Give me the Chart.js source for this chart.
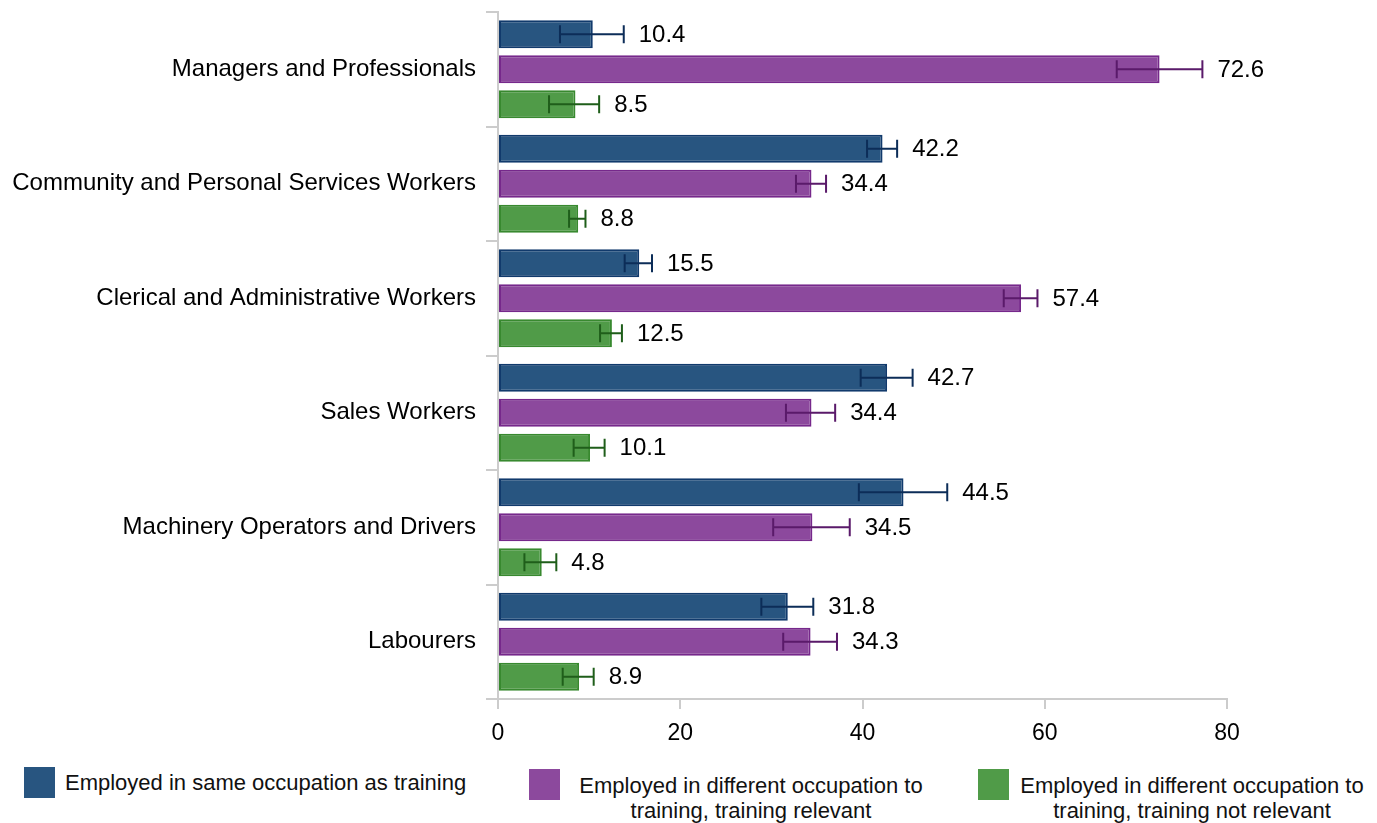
<!DOCTYPE html>
<html>
<head>
<meta charset="utf-8">
<script src="https://cdn.jsdelivr.net/npm/chart.js@4"></script>
<style>
  body { margin: 0; background: #fff; font-family: "Liberation Sans", Arial, sans-serif; }
  #wrap { position: absolute; left: 0; top: 0; width: 1377px; height: 760px; }
  .lg { position: absolute; font-size: 22px; line-height: 25px; color: #111; }
  .sw { position: absolute; width: 31px; height: 31px; }
</style>
</head>
<body>
<div id="wrap"><canvas id="chart"></canvas></div>

<div class="sw" style="left:24px; top:767px; background:#285580;"></div>
<div class="lg" style="left:65px; top:770px;">Employed in same occupation as training</div>
<div class="sw" style="left:529px; top:769px; background:#8c499d;"></div>
<div class="lg" style="left:551px; top:773px; width:400px; text-align:center;">Employed in different occupation to<br>training, training relevant</div>
<div class="sw" style="left:978px; top:769px; background:#509b48;"></div>
<div class="lg" style="left:992px; top:773px; width:400px; text-align:center;">Employed in different occupation to<br>training, training not relevant</div>

<script>
const categories = [
  'Managers and Professionals',
  'Community and Personal Services Workers',
  'Clerical and Administrative Workers',
  'Sales Workers',
  'Machinery Operators and Drivers',
  'Labourers'
];

// employed in same occupation as training
const sameOcc = [10.4, 42.2, 15.5, 42.7, 44.5, 31.8];
const sameLow = [6.8, 40.5, 13.9, 39.8, 39.6, 28.9];
const sameHigh = [13.8, 43.8, 16.9, 45.5, 49.3, 34.6];

// different occupation, training relevant
const diffRelevant = [72.6, 34.4, 57.4, 34.4, 34.5, 34.3];
const diffRelLow = [67.9, 32.7, 55.5, 31.6, 30.2, 31.3];
const diffRelHigh = [77.3, 36.0, 59.2, 37.0, 38.6, 37.2];

// different occupation, training not relevant
const diffNotRelevant = [8.5, 8.8, 12.5, 10.1, 4.8, 8.9];
const diffNotLow = [5.6, 7.8, 11.2, 8.3, 2.9, 7.1];
const diffNotHigh = [11.1, 9.6, 13.6, 11.7, 6.4, 10.5];

const xTicks = [0, 20, 40, 60, 80];

// draws the error bars and the value labels next to them
const errorBars = {
  id: 'errorBars',
  afterDatasetsDraw(chart) {
    const ctx = chart.ctx;
    const xs = chart.scales.x;
    chart.data.datasets.forEach((ds, i) => {
      const meta = chart.getDatasetMeta(i);
      meta.data.forEach((bar, j) => {
        const lo = xs.getPixelForValue(ds.lows[j]);
        const hi = xs.getPixelForValue(ds.highs[j]);
        const y = bar.y;
        const cap = 9;
        ctx.save();
        ctx.strokeStyle = ds.errColor;
        ctx.lineWidth = 2;
        ctx.beginPath();
        ctx.moveTo(lo, y); ctx.lineTo(hi, y);
        ctx.moveTo(lo, y - cap); ctx.lineTo(lo, y + cap);
        ctx.moveTo(hi, y - cap); ctx.lineTo(hi, y + cap);
        ctx.stroke();
        ctx.fillStyle = '#000';
        ctx.font = '24px "Liberation Sans", Arial, sans-serif';
        ctx.textAlign = 'left';
        ctx.textBaseline = 'middle';
        ctx.fillText(ds.data[j].toFixed(1), hi + 15, y + 1);
        ctx.restore();
      });
    });
  }
};

const ctx = document.getElementById('chart').getContext('2d');
new Chart(ctx, {
  type: 'bar',
  data: {
    labels: categories,
    datasets: [
      { label: 'Employed in same occupation as training', data: sameOcc, lows: sameLow, highs: sameHigh,
        backgroundColor: '#285580', borderColor: '#113a6c', errColor: '#0c2d58' },
      { label: 'Employed in different occupation to training, training relevant', data: diffRelevant, lows: diffRelLow, highs: diffRelHigh,
        backgroundColor: '#8c499d', borderColor: '#76288b', errColor: '#5a1a6a' },
      { label: 'Employed in different occupation to training, training not relevant', data: diffNotRelevant, lows: diffNotLow, highs: diffNotHigh,
        backgroundColor: '#509b48', borderColor: '#38892f', errColor: '#1f5e1a' }
    ].map(d => Object.assign(d, { borderWidth: 2, borderSkipped: false, categoryPercentage: 0.917, barPercentage: 0.8 }))
  },
  options: {
    indexAxis: 'y',
    responsive: true,
    maintainAspectRatio: false,
    animation: false,
    layout: { padding: { top: 12, right: 150, bottom: 11, left: 0 } },
    plugins: { legend: { display: false }, tooltip: { enabled: false } },
    scales: {
      x: {
        min: 0, max: 80,
        afterFit: s => { s.height = 50; s.paddingLeft = 0; s.paddingRight = 0; },
        afterBuildTicks: s => { s.ticks = xTicks.map(v => ({ value: v })); },
        ticks: { color: '#000', font: { size: 23, family: '"Liberation Sans", Arial' }, padding: 11 },
        grid: { drawOnChartArea: false, drawTicks: true, tickLength: 10, color: '#cccccc', lineWidth: 2 },
        border: { color: '#cccccc', width: 2 }
      },
      y: {
        afterFit: s => { s.width = 498; s.paddingTop = 0; s.paddingBottom = 0; },
        ticks: { color: '#000', font: { size: 24, family: '"Liberation Sans", Arial' }, padding: 10 },
        grid: { drawOnChartArea: false, drawTicks: true, tickLength: 12, color: '#cccccc', lineWidth: 2, offset: true },
        border: { color: '#cccccc', width: 2 }
      }
    }
  },
  plugins: [errorBars]
});
</script>
</body>
</html>
